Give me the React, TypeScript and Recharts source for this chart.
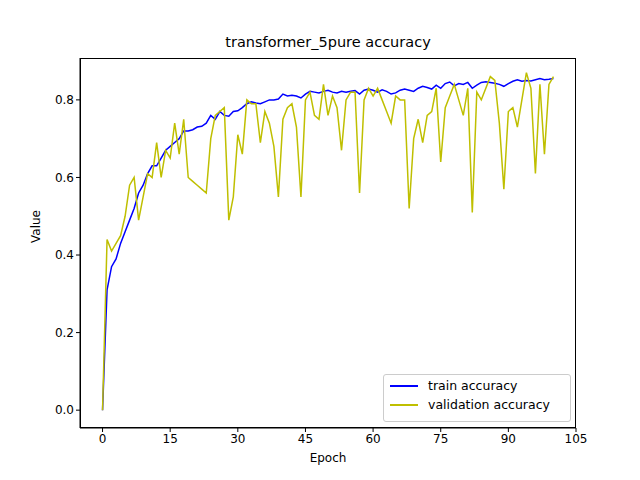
import { LineChart, Line, XAxis, YAxis } from "recharts";

const trainAcc = [
  0.0, 0.31, 0.37, 0.39, 0.43, 0.46, 0.49, 0.52, 0.56, 0.58, 0.61, 0.63, 0.63, 0.65, 0.67, 0.68, 0.69,
  0.7, 0.72, 0.72, 0.723, 0.73, 0.732, 0.74, 0.76, 0.75, 0.77, 0.76, 0.758, 0.77, 0.772, 0.78, 0.79,
  0.795, 0.792, 0.79, 0.795, 0.8, 0.8, 0.802, 0.815, 0.81, 0.812, 0.81, 0.805, 0.815, 0.822, 0.82,
  0.818, 0.822, 0.825, 0.82, 0.818, 0.822, 0.82, 0.822, 0.824, 0.815, 0.825, 0.828, 0.825, 0.82,
  0.826, 0.822, 0.815, 0.818, 0.825, 0.828, 0.825, 0.822, 0.83, 0.835, 0.832, 0.828, 0.838, 0.83,
  0.842, 0.846, 0.836, 0.842, 0.84, 0.845, 0.83, 0.838, 0.845, 0.847, 0.845, 0.843, 0.84, 0.835,
  0.842, 0.848, 0.852, 0.848, 0.85, 0.849, 0.852, 0.855, 0.852, 0.853, 0.855,
];
const valAcc = [
  0.0, 0.44, 0.41, 0.43, 0.45, 0.5, 0.58, 0.6, 0.49, 0.55, 0.61, 0.6, 0.69, 0.6, 0.67, 0.65, 0.74,
  0.66, 0.75, 0.6, 0.59, 0.58, 0.57, 0.56, 0.7, 0.76, 0.77, 0.78, 0.49, 0.55, 0.71, 0.66, 0.8, 0.79,
  0.79, 0.69, 0.77, 0.74, 0.68, 0.55, 0.75, 0.78, 0.79, 0.73, 0.55, 0.8, 0.82, 0.76, 0.75, 0.84,
  0.76, 0.81, 0.78, 0.67, 0.8, 0.82, 0.82, 0.56, 0.8, 0.83, 0.81, 0.83, 0.8, 0.77, 0.74, 0.81, 0.8,
  0.8, 0.52, 0.7, 0.75, 0.69, 0.76, 0.77, 0.83, 0.64, 0.78, 0.81, 0.84, 0.8, 0.76, 0.83, 0.51, 0.82,
  0.8, 0.83, 0.86, 0.85, 0.74, 0.57, 0.77, 0.78, 0.73, 0.8, 0.87, 0.83, 0.61, 0.84, 0.66, 0.84, 0.86,
];
const xTicks = [0, 15, 30, 45, 60, 75, 90, 105];
const yTicks = [0, 0.2, 0.4, 0.6, 0.8];

const data = trainAcc.map((t, i) => ({ epoch: i, train: t, val: valAcc[i] }));

const font = "DejaVu Sans, sans-serif";

export default function App() {
  return (
    <div style={{ position: "relative", width: 640, height: 480, margin: -8, background: "#fff", fontFamily: font }}>
      <div style={{ position: "absolute", top: 34, left: 0, width: 656, textAlign: "center", fontSize: 14.5, color: "#000" }}>
        transformer_5pure accuracy
      </div>
      <LineChart width={640} height={480} data={data} margin={{ top: 58, right: 64, bottom: 32, left: 20 }}>
        <XAxis
          dataKey="epoch"
          type="number"
          domain={[-5, 105]}
          ticks={xTicks}
          stroke="#000"
          tick={{ fill: "#000", fontSize: 12, fontFamily: font }}
          tickSize={4}
          label={{ value: "Epoch", position: "insideBottom", offset: -14, fill: "#000", fontSize: 12, fontFamily: font }}
          height={20}
        />
        <YAxis
          type="number"
          domain={[-0.046, 0.908]}
          ticks={yTicks}
          tickFormatter={(v: number) => v.toFixed(1)}
          stroke="#000"
          tick={{ fill: "#000", fontSize: 12, fontFamily: font }}
          tickSize={4}
          width={60}
          label={{ value: "Value", angle: -90, position: "insideLeft", offset: 16, fill: "#000", fontSize: 12, fontFamily: font }}
        />
        <Line dataKey="train" stroke="#0000ff" strokeWidth={1.5} dot={false} isAnimationActive={false} />
        <Line dataKey="val" stroke="#bfbf00" strokeWidth={1.5} dot={false} isAnimationActive={false} />
      </LineChart>
      <div style={{ position: "absolute", left: 80, top: 58, width: 496, height: 370, border: "1px solid #000", boxSizing: "border-box", pointerEvents: "none" }} />
      <div style={{ position: "absolute", left: 383, top: 374, width: 186, height: 46, border: "1px solid #ccc", borderRadius: 3, background: "#fff", fontSize: 12.5, color: "#000" }}>
        <div style={{ display: "flex", alignItems: "center", marginTop: 3, marginLeft: 6 }}>
          <span style={{ display: "inline-block", width: 28, height: 2, background: "#0000ff", marginRight: 10 }} />
          train accuracy
        </div>
        <div style={{ display: "flex", alignItems: "center", marginTop: 4, marginLeft: 6 }}>
          <span style={{ display: "inline-block", width: 28, height: 2, background: "#bfbf00", marginRight: 10 }} />
          validation accuracy
        </div>
      </div>
    </div>
  );
}
